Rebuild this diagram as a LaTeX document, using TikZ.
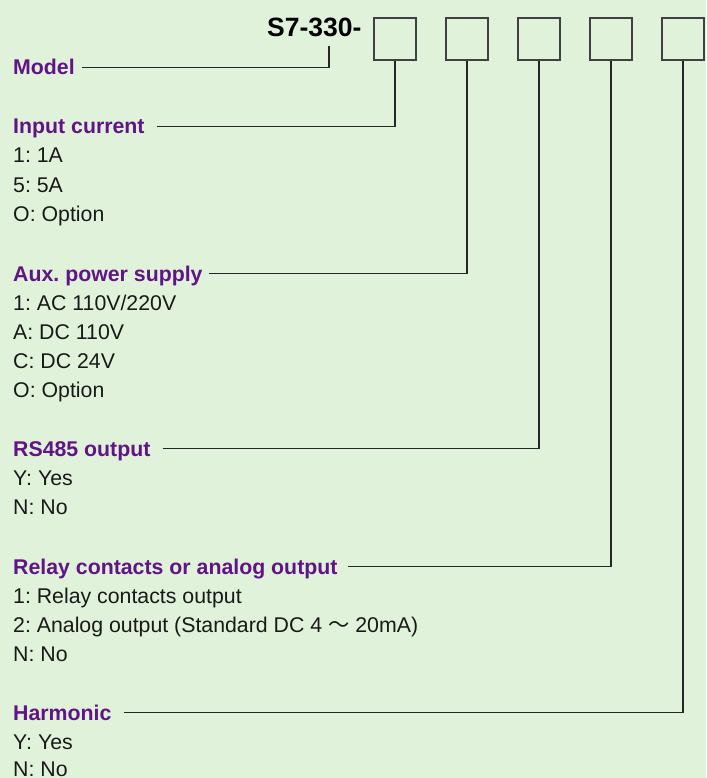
\documentclass[tikz,border=0pt]{standalone}
\usepackage{fontspec}
\setmainfont{Liberation Sans}
\newfontfamily\cjk{Noto Sans CJK SC}
\definecolor{bgGreen}{RGB}{225,242,218}
\definecolor{headPurple}{RGB}{96,20,136}
\frenchspacing

\begin{document}
\begin{tikzpicture}[x=1pt, y=-1pt,
  font=\fontsize{21.3}{28}\selectfont,
  head/.style={anchor=base west, inner sep=0pt, text height=15pt, text depth=0pt,
    font=\fontsize{21.3}{28}\selectfont\bfseries, text=headPurple},
  item/.style={anchor=base west, inner sep=0pt, text=black!90},
  codebox/.style={draw=black!75, line width=1.6pt, minimum size=42.5pt, inner sep=0pt},
  lead/.style={draw=black!85, line width=1.2pt}]

  % background
  \fill[bgGreen] (0,0) rectangle (706,778);
  \useasboundingbox (0,0) rectangle (706,778);

  % ---- type code ----
  \node[anchor=base west, inner sep=0pt, font=\fontsize{26.5}{30}\selectfont\bfseries]
      (code) at (267,37) {S7-330-};
  \foreach \k in {1,...,5}
    \node[codebox] (b\k) at (323+72*\k, 39) {};

  % ---- model ----
  \node[head] (model) at (13,75) {Model};
  \coordinate (tick) at (329,46);
  \draw[lead] ([xshift=7pt]model.east) -| (tick);

  % ---- headings: (name, baseline, gap, box, text) ----
  \foreach \name/\y/\gap/\k/\txt in {
      input/134/12/1/{Input current},
      aux/281/6/2/{Aux. power supply},
      rs/456/12/3/{RS485 output},
      relay/574/10/4/{Relay contacts or analog output},
      harm/720/12/5/{Harmonic}
  }{
    \node[head] (\name) at (13,\y) {\txt};
    \draw[lead] ([xshift=\gap pt]\name.east) -| (b\k.south);
  }

  % ---- options ----
  \foreach \y/\txt in {
      163/{1: 1A}, 192/{5: 5A}, 221/{O: Option},
      310/{1: AC 110V/220V}, 339/{A: DC 110V}, 368/{C: DC 24V}, 397/{O: Option},
      485/{Y: Yes}, 514/{N: No},
      603/{1: Relay contacts output},
      632/{2: Analog output (Standard DC 4 {\cjk ～} 20mA)},
      661/{N: No},
      749/{Y: Yes}, 776/{N: No}
  }{
    \node[item] (opt\y) at (13,\y) {\txt};
  }

\end{tikzpicture}
\end{document}
